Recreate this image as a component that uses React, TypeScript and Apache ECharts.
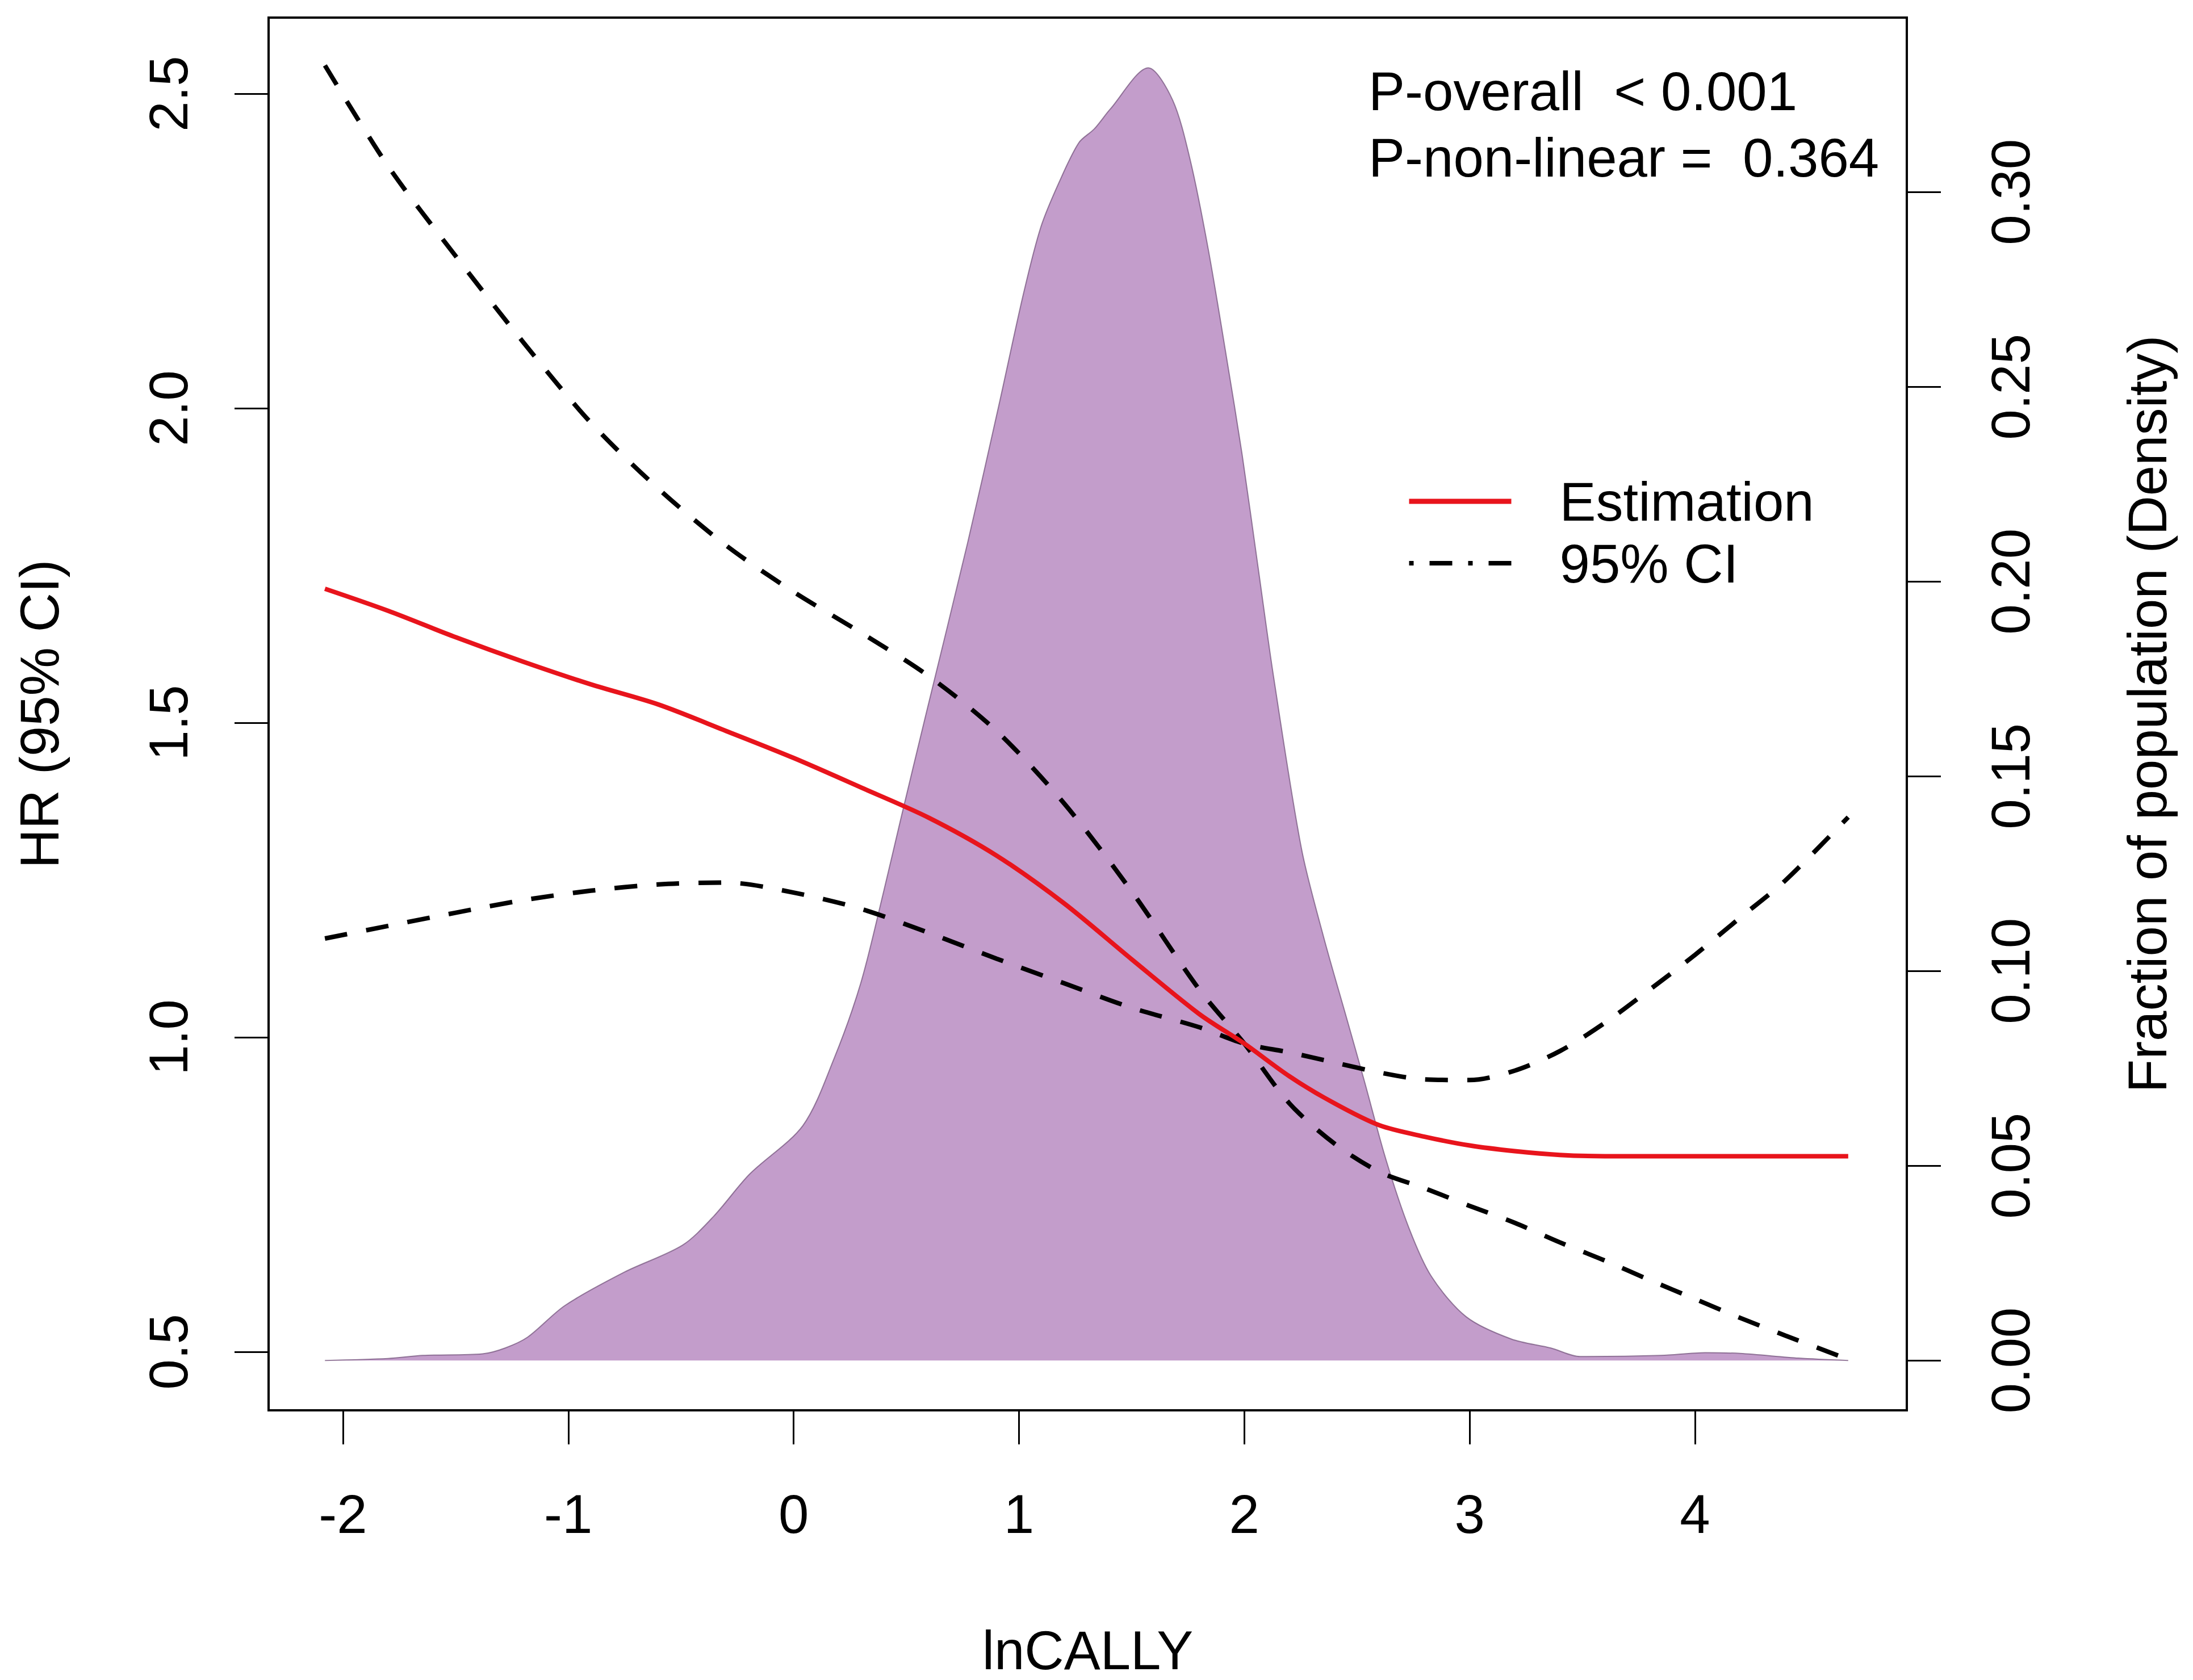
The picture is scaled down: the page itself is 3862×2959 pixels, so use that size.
import React, { useEffect, useRef } from 'react';
import * as echarts from 'echarts';

// Shared x grid for the HR curves (lnCALLY)
const lineX = [-2.08, -1.8, -1.5, -1.2, -0.9, -0.6, -0.3, 0, 0.3, 0.6, 0.9, 1.2, 1.5, 1.8, 2.0, 2.2, 2.4, 2.6, 2.8, 3.0, 3.2, 3.4, 3.6, 3.8, 4.0, 4.2, 4.4, 4.68];
const estimationHR = [1.713, 1.678, 1.636, 1.597, 1.561, 1.529, 1.487, 1.444, 1.397, 1.349, 1.289, 1.213, 1.124, 1.037, 0.99, 0.938, 0.895, 0.86, 0.842, 0.828, 0.819, 0.813, 0.811, 0.811, 0.811, 0.811, 0.811, 0.811];
const ciUpperHR = [2.545, 2.385, 2.242, 2.105, 1.977, 1.872, 1.782, 1.708, 1.643, 1.574, 1.487, 1.372, 1.232, 1.076, 0.99, 0.895, 0.831, 0.786, 0.76, 0.732, 0.705, 0.674, 0.645, 0.614, 0.584, 0.554, 0.526, 0.488];
const ciLowerHR = [1.157, 1.177, 1.198, 1.218, 1.233, 1.243, 1.246, 1.23, 1.204, 1.166, 1.125, 1.086, 1.047, 1.016, 0.99, 0.976, 0.96, 0.944, 0.933, 0.932, 0.947, 0.978, 1.023, 1.076, 1.131, 1.19, 1.249, 1.35];

// Density of population
const densityX = [-2.08, -1.8, -1.645, -1.38, -1.28, -1.18, -1.015, -0.75, -0.493, -0.355, -0.196, 0.041, 0.18, 0.298, 0.397, 0.477, 0.586, 0.772, 0.911, 1.02, 1.097, 1.178, 1.266, 1.334, 1.405, 1.574, 1.682, 1.76, 1.84, 1.92, 1.99, 2.06, 2.13, 2.254, 2.353, 2.454, 2.532, 2.63, 2.73, 2.83, 2.985, 3.185, 3.36, 3.49, 3.85, 4.045, 4.2, 4.46, 4.68];
const densityY = [0, 0.0005, 0.0013, 0.0017, 0.0032, 0.006, 0.0141, 0.0227, 0.0296, 0.037, 0.0478, 0.0603, 0.0776, 0.0969, 0.1198, 0.1394, 0.1656, 0.2099, 0.2453, 0.2739, 0.291, 0.3025, 0.3127, 0.3162, 0.3213, 0.3319, 0.3236, 0.3082, 0.2853, 0.2579, 0.2327, 0.2041, 0.1755, 0.1313, 0.1085, 0.0879, 0.0719, 0.0513, 0.0341, 0.0216, 0.0112, 0.0055, 0.0032, 0.001, 0.0013, 0.002, 0.0018, 0.0006, 0];

const xTicks = [-2, -1, 0, 1, 2, 3, 4];
const hrTicks = [0.5, 1.0, 1.5, 2.0, 2.5];
const densityTicks = [0, 0.05, 0.1, 0.15, 0.2, 0.25, 0.3];

const annotationLines = ['P-overall  < 0.001', 'P-non-linear =  0.364'];

export default function App() {
  const ref = useRef<HTMLDivElement>(null);
  useEffect(() => {
    const chart = echarts.init(ref.current as HTMLDivElement, null, { renderer: 'svg' });
    const font = 'Liberation Sans, Arial, sans-serif';
    const fs = 96;
    const pair = (xs: number[], ys: number[]) => xs.map((x, i) => [x, ys[i]]);
    const tickStyle = { color: '#000', width: 3 };
    chart.setOption({
      animation: false,
      backgroundColor: '#fff',
      textStyle: { fontFamily: font },
      grid: {
        left: 473, top: 31, right: 504, bottom: 475,
        show: true, borderColor: '#000', borderWidth: 4, backgroundColor: 'transparent',
        containLabel: false, outerBoundsMode: 'none',
      },
      xAxis: {
        type: 'value', min: -2.33, max: 4.94,
        axisLine: { show: false, onZero: false },
        splitLine: { show: false },
        axisTick: { show: true, length: 60, lineStyle: tickStyle, customValues: xTicks },
        axisLabel: { customValues: xTicks, margin: 134, fontSize: fs, color: '#000', fontFamily: font, formatter: (v: number) => String(v) },
        name: 'lnCALLY', nameLocation: 'middle', nameGap: 374,
        nameTextStyle: { fontSize: fs, color: '#000', fontFamily: font },
      },
      yAxis: [
        {
          type: 'value', min: 0.407, max: 2.621, position: 'left',
          axisLine: { show: false, onZero: false },
          splitLine: { show: false },
          axisTick: { show: true, length: 60, lineStyle: tickStyle, customValues: hrTicks },
          axisLabel: { customValues: hrTicks, rotate: 90, margin: 129, fontSize: fs, color: '#000', fontFamily: font, formatter: (v: number) => v.toFixed(1) },
          name: 'HR (95% CI)', nameLocation: 'middle', nameGap: 356, nameRotate: 90,
          nameTextStyle: { fontSize: fs, color: '#000', fontFamily: font },
        },
        {
          type: 'value', min: -0.0128, max: 0.3448, position: 'right',
          axisLine: { show: false, onZero: false },
          splitLine: { show: false },
          axisTick: { show: true, length: 60, lineStyle: tickStyle, customValues: densityTicks },
          axisLabel: { customValues: densityTicks, rotate: 90, margin: 134, fontSize: fs, color: '#000', fontFamily: font, formatter: (v: number) => v.toFixed(2) },
          name: 'Fraction of population (Density)', nameLocation: 'middle', nameGap: 375, nameRotate: 90,
          nameTextStyle: { fontSize: fs, color: '#000', fontFamily: font },
        },
      ],
      legend: {
        show: true, orient: 'vertical', left: 2472, top: 830,
        itemWidth: 180, itemHeight: 24, itemGap: 13,
        itemStyle: { opacity: 0, borderWidth: 0 },
        textStyle: { fontSize: fs, color: '#000', fontFamily: font, padding: [0, 0, 0, 80] },
        data: [
          { name: 'Estimation', lineStyle: { type: 'solid', width: 9, color: '#e8141c' }, itemStyle: { opacity: 0 } },
          { name: '95% CI', lineStyle: { type: [8, 28, 40, 28], width: 8, color: '#000' }, itemStyle: { opacity: 0 } },
        ],
      },
      graphic: annotationLines.map((t, i) => ({
        type: 'text', x: 2410, y: 160 + i * 117, z: 100,
        style: { text: t, fontSize: fs, fontFamily: font, fill: '#000', align: 'left', verticalAlign: 'middle' },
      })),
      series: [
        {
          type: 'line', name: 'Density', yAxisIndex: 1, data: pair(densityX, densityY),
          symbol: 'none', smooth: 0.3, z: 1, silent: true,
          lineStyle: { color: '#6f4f78', width: 2, opacity: 0.7 },
          areaStyle: { color: '#c39dcb', opacity: 1 },
        },
        {
          type: 'line', name: '95% CI', data: pair(lineX, ciUpperHR), symbol: 'none', smooth: 0.3, z: 3,
          lineStyle: { color: '#000', width: 8, type: [40, 34] },
        },
        {
          type: 'line', name: '95% CI', data: pair(lineX, ciLowerHR), symbol: 'none', smooth: 0.3, z: 3,
          lineStyle: { color: '#000', width: 8, type: [40, 34] },
        },
        {
          type: 'line', name: 'Estimation', data: pair(lineX, estimationHR), symbol: 'none', smooth: 0.3, z: 4,
          lineStyle: { color: '#e8141c', width: 8 },
          itemStyle: { color: '#e8141c' },
        },
      ],
    });
    return () => chart.dispose();
  }, []);
  return <div ref={ref} style={{ position: 'absolute', left: 0, top: 0, width: 3862, height: 2959, background: '#fff' }} />;
}
